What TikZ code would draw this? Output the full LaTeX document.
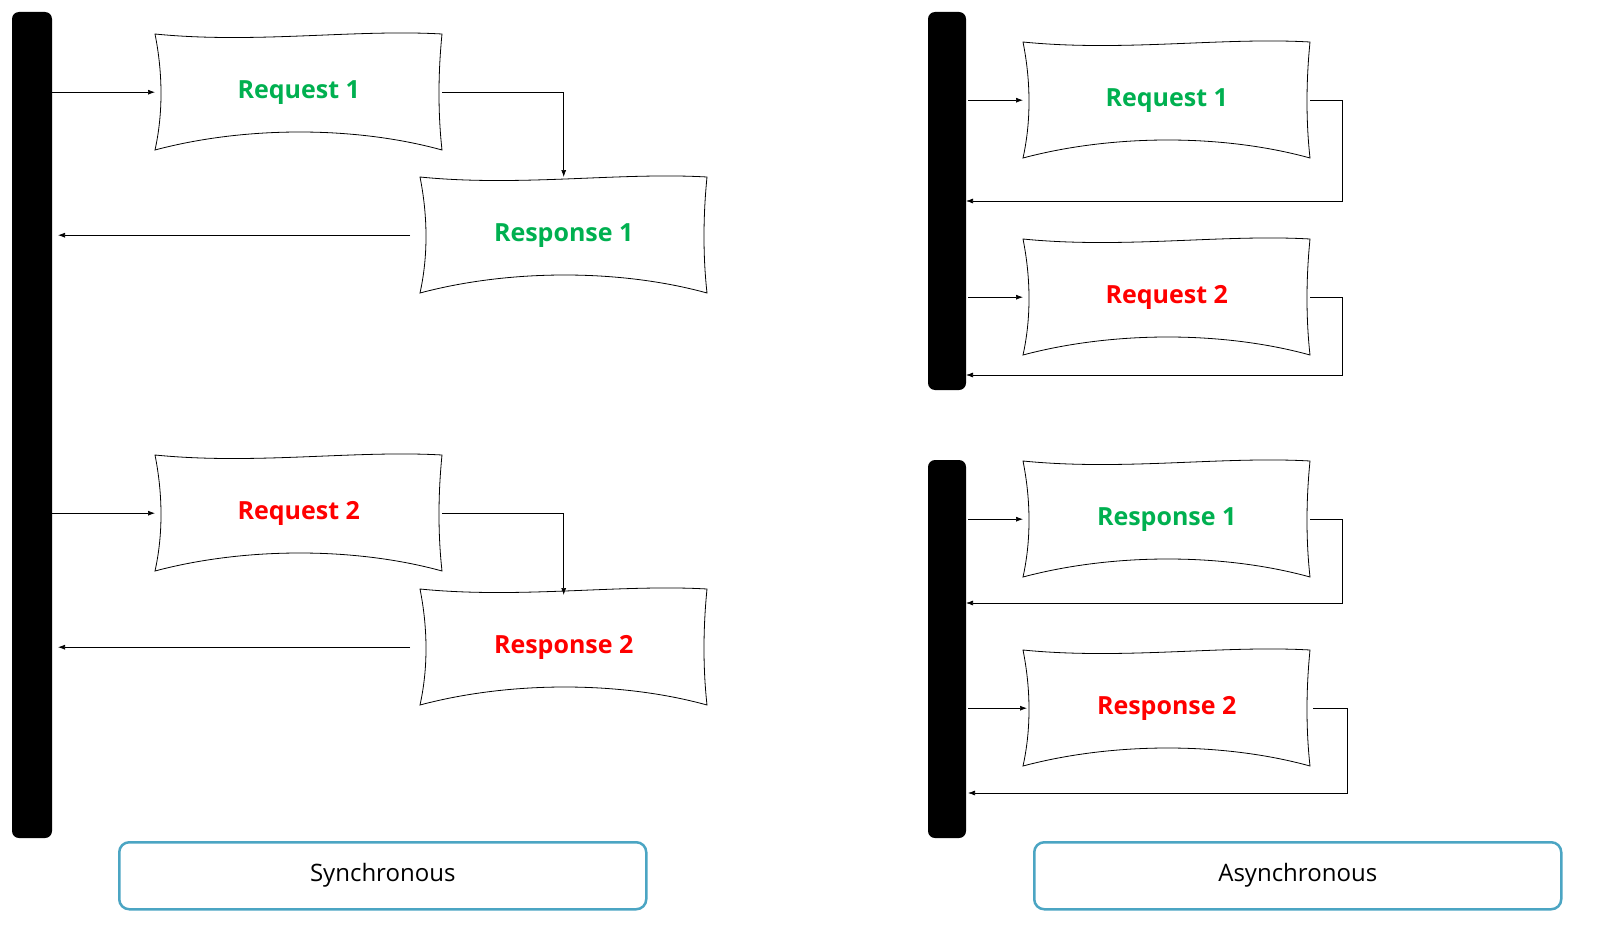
\documentclass[tikz,border=0pt]{standalone}
\usepackage{fontspec}
\setmainfont{Open Sans}
\usetikzlibrary{arrows.meta}
\definecolor{gr}{RGB}{0,176,80}
\definecolor{rd}{RGB}{255,0,0}
\definecolor{tl}{RGB}{75,165,195}
\tikzset{
  bar/.style={fill=black,rounded corners=7pt,draw=none},
  lbl/.style={font=\bfseries\fontsize{25}{30}\selectfont,inner sep=0pt,minimum width=287pt,minimum height=116pt,anchor=north west},
  captionbox/.style={draw=tl,line width=2.5pt,rounded corners=10pt,minimum width=527pt,minimum height=67pt,anchor=north west,font=\fontsize{24}{28}\selectfont},
  ar/.style={-{Latex[length=7pt,width=5pt]},line width=0.7pt}
}
\newcommand{\wbox}[5]{%
  \draw[line width=0.8pt,shift={(#2,#3)}] (0,0) .. controls (100,10) and (200,-5) .. (287,0) .. controls (283,40) and (283,80) .. (287,116) .. controls (200,92) and (90,92) .. (0,116) .. controls (8,80) and (8,40) .. (0,0) -- cycle;%
  \node[lbl,text=#5] (#1) at (#2,#3) {#4};}
\begin{document}
\begin{tikzpicture}[x=1pt,y=-1pt]
\fill[bar] (12,12) rectangle (52,838);
\fill[bar] (928,12) rectangle (966,390);
\fill[bar] (928,460) rectangle (966,838);
\coordinate (L) at (52,0); \coordinate (Lr) at (58,0);
\coordinate (R) at (968,0); \coordinate (Rr) at (966,0);
\wbox{s1}{155}{34}{Request 1}{gr}
\wbox{s2}{420}{177}{Response 1}{gr}
\wbox{s3}{155}{455}{Request 2}{rd}
\wbox{s4}{420}{589}{Response 2}{rd}
\draw[ar] (L|-s1.west) -- (s1.west);
\draw[ar] (s1.east) -| (s2.north);
\draw[ar] ([xshift=-10pt]s2.west) -- (Lr|-s2.west);
\draw[ar] (L|-s3.west) -- (s3.west);
\draw[ar] (s3.east) -| ([yshift=-6pt]s4.north);
\draw[ar] ([xshift=-10pt]s4.west) -- (Lr|-s4.west);
\wbox{a1}{1023}{42}{Request 1}{gr}
\wbox{a2}{1023}{239}{Request 2}{rd}
\wbox{a3}{1023}{461}{Response 1}{gr}
\wbox{a4}{1023}{650}{Response 2}{rd}
\foreach \n/\y/\xx in {a1/201/1342,a2/375/1342,a3/603/1342} {
  \draw[ar] (R|-\n.west) -- (\n.west);
  \draw[ar] (\n.east) -- (\xx,0|-\n.east) -- (\xx,\y) -- (Rr|-0,\y);
}
\draw[ar] ([xshift=-55pt]a4.west) -- ([xshift=4pt]a4.west);
\draw[ar] ([xshift=3pt]a4.east) -- (1347,0|-a4.east) -- (1347,793) -- (968,793);
\node[captionbox] (c1) at (118,841) {Synchronous};
\node[captionbox] (c2) at (1033,841) {Asynchronous};
\pgfresetboundingbox
\useasboundingbox (0,0) rectangle (1598,934);
\end{tikzpicture}
\end{document}
